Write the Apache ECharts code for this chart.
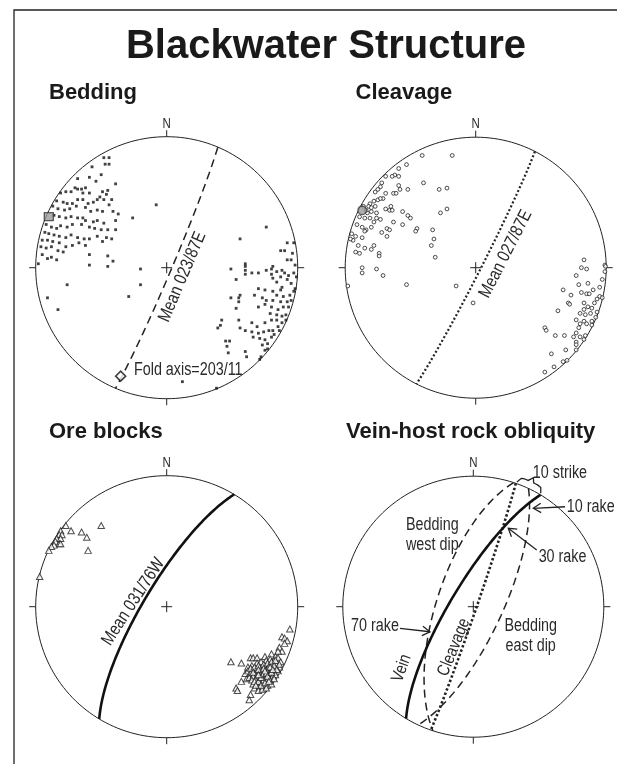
<!DOCTYPE html>
<html><head><meta charset="utf-8">
<script src="https://cdn.jsdelivr.net/npm/echarts@6/dist/echarts.min.js"></script>
<style>html,body{margin:0;padding:0;background:#fff}#c{width:617px;height:764px}</style>
</head><body><div id="c"></div>
<script>
// ---------------- DATA (net coordinates, lower hemisphere equal-area, radius = 1) ----------------
const titleText = 'Blackwater Structure';
const panelTitles = ['Bedding', 'Cleavage', 'Ore blocks', 'Vein-host rock obliquity'];

// Bedding poles
const beddingPoles = [
[-.48,.84],[-.44,.84],[-.47,.79],[-.44,.79],[-.57,.77],[-.59,.69],[-.50,.71],[-.68,.68],[-.39,.64],[-.54,.66],
[-.70,.61],[-.68,.60],[-.65,.60],[-.62,.61],[-.73,.58],[-.77,.58],[-.64,.57],[-.59,.57],[-.49,.58],[-.45,.59],[-.46,.56],[-.51,.54],
[-.81,.57],[-.84,.51],[-.79,.50],[-.76,.49],[-.72,.49],[-.68,.52],[-.64,.52],[-.60,.49],[-.56,.50],[-.53,.52],[-.48,.52],[-.42,.52],[-.44,.48],
[-.87,.47],[-.83,.45],[-.78,.44],[-.74,.45],[-.69,.47],[-.62,.46],[-.58,.43],[-.53,.44],[-.49,.43],[-.41,.43],[-.37,.41],
[-.86,.40],[-.82,.39],[-.77,.38],[-.73,.39],[-.68,.38],[-.64,.38],[-.62,.36],[-.56,.35],[-.53,.36],[-.39,.36],[-.48,.34],[-.26,.38],
[-.92,.33],[-.88,.31],[-.84,.30],[-.81,.32],[-.76,.31],[-.72,.33],[-.65,.33],[-.59,.31],[-.55,.30],[-.50,.29],[-.45,.29],[-.39,.29],
[-.93,.27],[-.90,.26],[-.86,.25],[-.82,.24],[-.77,.23],[-.73,.25],[-.68,.23],[-.63,.22],[-.59,.22],[-.53,.24],[-.46,.23],
[-.95,.21],[-.91,.21],[-.87,.20],[-.82,.19],[-.77,.16],[-.72,.17],[-.67,.19],[-.62,.17],[-.49,.20],[-.42,.22],
[-.96,.16],[-.92,.15],[-.88,.16],[-.83,.13],[-.79,.12],[-.88,.08],[-.84,.06],[-.91,.07],[-.95,.10],
[-.59,.10],[-.45,.09],[-.41,.05],[-.45,.01],[-.59,.02],[-.98,.03],
[-.08,.48],[-.20,-.01],[-.20,-.13],[-.29,-.22],[-.76,-.13],[-.91,-.23],[-.83,-.32],[.76,.31],[.56,.22],[.12,-.87],[.38,-.92],[.71,-.70],
[.92,.19],[.97,.19],[.87,.13],[.90,.13],[.96,.11],[.95,.06],[.92,.06],[.98,.02],
[.60,.03],[.60,.01],[.60,-.02],[.60,-.05],[.49,-.01],[.65,-.04],[.70,-.04],[.76,-.02],[.80,-.01],[.81,.01],[.84,-.03],[.88,-.02],[.90,-.04],[.93,-.06],[.97,-.04],[.99,-.07],[.87,-.07],[.92,-.09],
[.80,-.05],[.81,-.08],[.84,-.11],[.88,-.15],[.95,-.12],[.98,-.16],
[.53,-.09],[.70,-.16],[.75,-.17],[.81,-.18],[.87,-.17],[.84,-.21],[.89,-.22],[.94,-.21],[.97,-.18],
[.56,-.21],[.55,-.23],[.55,-.26],[.49,-.23],[.67,-.21],[.73,-.23],[.76,-.25],[.81,-.25],[.87,-.26],[.92,-.26],[.95,-.25],
[.53,-.31],[.70,-.30],[.75,-.28],[.80,-.30],[.85,-.32],[.89,-.30],[.93,-.30],
[.84,-.36],[.79,-.35],[.88,-.37],[.91,-.36],
[.42,-.40],[.41,-.44],[.39,-.46],[.55,-.40],[.65,-.42],[.69,-.45],[.75,-.42],[.80,-.40],[.84,-.40],[.88,-.42],[.91,-.40],
[.56,-.46],[.60,-.48],[.65,-.49],[.70,-.50],[.74,-.49],[.78,-.48],[.81,-.48],[.85,-.45],[.86,-.48],
[.66,-.53],[.71,-.54],[.75,-.55],[.80,-.53],[.82,-.51],
[.45,-.56],[.48,-.56],[.46,-.60],[.73,-.59],[.77,-.58],[.75,-.63],[.77,-.62],
[.47,-.65],[.60,-.64],[.61,-.68],[.72,-.68]
];
const beddingMeanPole = [[-.90,.39]];
const beddingMeanPlane = [23, 87, 'E'];      // strike, dip, dip side
const foldAxis = [203, 11];                  // trend, plunge

// Cleavage poles
const cleavagePoles = [
[-.41,.86],[-.18,.86],[-.53,.79],[-.59,.76],[-.62,.71],[-.64,.70],[-.59,.70],[-.69,.70],[-.40,.65],[-.28,.60],[-.22,.61],[-.59,.63],[-.58,.60],[-.72,.65],[-.73,.62],[-.75,.60],[-.77,.58],[-.69,.57],[-.63,.57],[-.61,.57],[-.52,.60],[-.71,.53],[-.75,.52],[-.78,.51],[-.81,.49],[-.82,.47],[-.77,.47],[-.73,.53],
[-.83,.42],[-.80,.43],[-.76,.42],[-.69,.45],[-.65,.47],[-.66,.44],[-.64,.44],[-.56,.43],[-.52,.40],[-.50,.38],[-.27,.42],[-.22,.45],[-.84,.44],[-.86,.47],[-.80,.46],
[-.89,.39],[-.85,.38],[-.81,.38],[-.76,.38],[-.78,.35],[-.73,.37],[-.63,.35],[-.56,.33],[-.45,.30],[-.33,.29],
[-.91,.33],[-.87,.31],[-.84,.29],[-.80,.31],[-.85,.28],[-.68,.30],[-.66,.29],[-.72,.27],[-.95,.26],[-.92,.24],[-.87,.23],[-.94,.21],[-.96,.22],[-.68,.24],[-.46,.28],[-.32,.22],
[-.90,.17],[-.85,.15],[-.78,.17],[-.92,.12],[-.89,.11],[-.80,.14],[-.74,.11],[-.74,.09],[-.34,.17],[-.31,.08],
[-.87,.00],[-.76,-.01],[-.87,-.04],[-.71,-.06],[-.98,-.14],[-.53,-.13],[-.15,-.14],[-.02,-.27],
[.83,.06],[.81,.00],[.85,-.01],[.77,-.06],[.99,.02],[.99,-.03],[.97,-.09],[.95,-.15],[.86,-.12],[.79,-.13],[.67,-.17],[.73,-.21],[.81,-.19],[.85,-.20],[.87,-.20],[.90,-.17],[.95,-.22],[.97,-.23],[.93,-.24],
[.71,-.27],[.72,-.28],[.83,-.27],[.86,-.30],[.89,-.31],[.83,-.32],[.91,-.27],[.63,-.33],[.80,-.35],[.84,-.36],[.88,-.35],[.93,-.34],[.92,-.38],[.77,-.40],[.83,-.41],[.89,-.41],[.80,-.43],[.85,-.43],[.79,-.46],[.89,-.44],
[.53,-.46],[.54,-.48],[.61,-.52],[.68,-.52],[.77,-.50],[.75,-.53],[.80,-.53],[.83,-.55],[.77,-.57],[.84,-.52],[.77,-.59],[.77,-.63],[.69,-.63],[.58,-.66],[.67,-.72],[.70,-.71],[.60,-.76],[.53,-.80],[.995,.01]
];
const cleavageMeanPole = [[-.87,.44]];
const cleavageMeanPlane = [27, 87, 'E'];

// Ore block poles
const orePoles = [
[-.77,.62],[-.73,.58],[-.65,.57],[-.61,.53],[-.50,.62],[-.60,.43],[-.81,.58],[-.82,.55],[-.80,.55],[-.84,.52],[-.81,.52],[-.85,.50],[-.82,.48],[-.86,.47],[-.81,.48],[-.88,.46],[-.90,.43],[-.97,.23],
[.94,-.17],[.88,-.23],[.90,-.24],[.92,-.26],[.90,-.28],[.86,-.31],[.88,-.34],[.85,-.34],[.49,-.42],[.57,-.43],[.64,-.39],[.66,-.39],[.69,-.39],[.75,-.38],[.80,-.36],[.83,-.38],
[.57,-.57],[.53,-.62],[.54,-.64],[.64,-.67],[.63,-.71],[.60,-.51],[.61,-.55],
[.62,-.46],[.65,-.45],[.69,-.43],[.72,-.42],[.76,-.41],[.79,-.40],[.82,-.41],[.85,-.39],
[.62,-.49],[.65,-.48],[.68,-.47],[.71,-.46],[.75,-.45],[.78,-.45],[.81,-.44],[.84,-.43],[.87,-.42],
[.64,-.51],[.67,-.51],[.70,-.50],[.73,-.49],[.76,-.48],[.80,-.48],[.83,-.47],[.86,-.46],
[.63,-.54],[.66,-.53],[.69,-.53],[.73,-.52],[.76,-.51],[.79,-.51],[.82,-.50],[.85,-.49],
[.65,-.56],[.68,-.56],[.71,-.55],[.75,-.55],[.78,-.54],[.81,-.53],[.83,-.52],
[.66,-.59],[.69,-.59],[.73,-.58],[.76,-.57],[.79,-.56],[.82,-.55],
[.67,-.62],[.71,-.61],[.74,-.61],[.77,-.60],[.80,-.59],
[.70,-.64],[.73,-.63],[.76,-.62],
[.64,-.47],[.67,-.46],[.70,-.45],[.74,-.44],[.77,-.43],[.80,-.42],[.83,-.41],
[.66,-.50],[.70,-.48],[.74,-.47],[.78,-.46],[.82,-.45],[.86,-.44],
[.67,-.57],[.70,-.57],[.74,-.56],[.77,-.53],[.80,-.50],[.84,-.48],[.72,-.54],[.75,-.49],[.79,-.46],[.81,-.48],[.72,-.60],[.75,-.58],[.78,-.57],[.70,-.52],[.68,-.60]
];
const oreMeanPlane = [31, 76, 'W'];

// Vein-host rock obliquity planes
const veinPlane = [31, 76, 'W'];
const veinCleavagePlane = [19, 88, 'E'];
const beddingWestPlane = [18, 67, 'W'];
const beddingEastPlane = [25, 72, 'E'];
const rakeLabels = ['10 rake', '30 rake', '70 rake'];
const strikeLabel = '10 strike';

// ---------------- GEOMETRY ----------------
const D = Math.PI / 180;
function projectVec(e, n, d) {            // lower hemisphere, equal-area
  if (d < 0) { e = -e; n = -n; d = -d; }
  const pl = Math.asin(Math.min(1, d));
  const r = Math.SQRT2 * Math.sin((Math.PI / 2 - pl) / 2);
  const h = Math.hypot(e, n) || 1;
  return [r * e / h, r * n / h];
}
function lineXY(trend, plunge) {
  const r = Math.SQRT2 * Math.sin((90 - plunge) * D / 2);
  return [r * Math.sin(trend * D), r * Math.cos(trend * D)];
}
function planeTrace(p) {
  const [strike, dip, side] = p;
  const dd = (side === 'E' ? strike + 90 : strike + 270) % 360;
  const s = [Math.sin(strike * D), Math.cos(strike * D), 0];
  const d = [Math.cos(dip * D) * Math.sin(dd * D), Math.cos(dip * D) * Math.cos(dd * D), Math.sin(dip * D)];
  const pts = [];
  for (let t = 0; t <= 180; t += 1) {
    const c = Math.cos(t * D), sn = Math.sin(t * D);
    pts.push(projectVec(c * s[0] + sn * d[0], c * s[1] + sn * d[1], c * s[2] + sn * d[2]));
  }
  return pts;
}
const pad3 = v => String(v).padStart(3, '0');
const planeLabel = p => 'Mean ' + pad3(p[0]) + '/' + p[1] + p[2];
const primitive = [];
for (let a = 0; a <= 360; a += 2) primitive.push([Math.sin(a * D), Math.cos(a * D)]);
const polar = (r, az) => [r * Math.sin(az * D), r * Math.cos(az * D)];

// ---------------- LAYOUT ----------------
const P = [
  { cx: 166.7, cy: 267.7, R: 131 },
  { cx: 475.7, cy: 267.7, R: 130.5 },
  { cx: 166.7, cy: 606.7, R: 131 },
  { cx: 473.3, cy: 606.7, R: 130.5 }
];
const INK = '#222';

const grids = [], xAxes = [], yAxes = [], series = [];
function frameSeries(i) {
  const R = P[i].R, t = 6.5 / R, c = 5.5 / R;
  const segs = [[[0, 1], [0, 1 + t]], [[0, -1], [0, -1 - t]], [[1, 0], [1 + t, 0]], [[-1, 0], [-1 - t, 0]],
                [[-c, 0], [c, 0]], [[0, -c], [0, c]]];
  return [
    { type: 'line', xAxisIndex: i, yAxisIndex: i, data: primitive, symbol: 'none', showSymbol: false, clip: false, silent: true,
      lineStyle: { color: INK, width: 1 }, z: 2 },
    { type: 'lines', coordinateSystem: 'cartesian2d', xAxisIndex: i, yAxisIndex: i, polyline: true, clip: false, silent: true,
      lineStyle: { color: INK, width: 1, opacity: 1 }, data: segs.map(s => ({ coords: s })), z: 3 }
  ];
}
function gc(i, plane, ls) {
  return { type: 'line', xAxisIndex: i, yAxisIndex: i, data: planeTrace(plane), symbol: 'none', showSymbol: false,
    clip: false, silent: true, lineStyle: Object.assign({ color: INK, cap: 'butt' }, ls), z: 4 };
}
P.forEach((p, i) => {
  grids.push({ left: p.cx - p.R, top: p.cy - p.R, width: 2 * p.R, height: 2 * p.R, containLabel: false });
  xAxes.push({ type: 'value', gridIndex: i, min: -1, max: 1, show: false });
  yAxes.push({ type: 'value', gridIndex: i, min: -1, max: 1, show: false });
  series.push(...frameSeries(i));
});

// Bedding
series.push(gc(0, beddingMeanPlane, { type: [8, 5], width: 1.5 }));
series.push({ type: 'scatter', xAxisIndex: 0, yAxisIndex: 0, data: beddingPoles, symbol: 'rect', symbolSize: 2.8,
  itemStyle: { color: '#111' }, silent: true, z: 5 });
series.push({ type: 'scatter', xAxisIndex: 0, yAxisIndex: 0, data: beddingMeanPole, symbol: 'rect', symbolSize: [9, 8],
  itemStyle: { color: '#9a9a9a', borderColor: '#333', borderWidth: 1.2 }, silent: true, z: 6 });
series.push({ type: 'scatter', xAxisIndex: 0, yAxisIndex: 0, data: [lineXY(foldAxis[0], foldAxis[1])], symbol: 'diamond', symbolSize: 10,
  itemStyle: { color: '#fff', borderColor: '#111', borderWidth: 1.6 }, silent: true, z: 6 });

// Cleavage
series.push(gc(1, cleavageMeanPlane, { type: [2, 2.2], width: 2.2 }));
series.push({ type: 'scatter', xAxisIndex: 1, yAxisIndex: 1, data: cleavagePoles, symbol: 'circle', symbolSize: 3.8,
  itemStyle: { color: '#fff', borderColor: '#222', borderWidth: 1 }, silent: true, z: 5 });
series.push({ type: 'scatter', xAxisIndex: 1, yAxisIndex: 1, data: cleavageMeanPole, symbol: 'circle', symbolSize: 8.5,
  itemStyle: { color: '#9a9a9a', borderColor: '#333', borderWidth: 1.2 }, silent: true, z: 6 });

// Ore blocks
series.push(gc(2, oreMeanPlane, { type: 'solid', width: 2.6, color: '#111' }));
series.push({ type: 'scatter', xAxisIndex: 2, yAxisIndex: 2, data: orePoles, symbol: 'triangle', symbolSize: [6.5, 6],
  itemStyle: { color: '#fff', borderColor: '#222', borderWidth: 1 }, silent: true, z: 5 });

// Vein-host rock obliquity
series.push(gc(3, beddingWestPlane, { type: [8, 5], width: 1.5 }));
series.push(gc(3, beddingEastPlane, { type: [8, 5], width: 1.5 }));
series.push(gc(3, veinCleavagePlane, { type: [2.4, 2.2], width: 2.6 }));
series.push(gc(3, veinPlane, { type: 'solid', width: 2.6, color: '#111' }));

// rake arrows (annotation anchors in net coordinates: label side -> point on vein)
const R3 = P[3].R;
const arrowDefs = [
  { tail: [.703, .766], tip: [.46, .754] },
  { tail: [.486, .434], tip: [.268, .601] },
  { tail: [-.562, -.166], tip: [-.332, -.192] }
];
function arrowLines(tail, tip) {
  const L = 9 / R3, a = 32 * D;
  let dx = tail[0] - tip[0], dy = tail[1] - tip[1];
  const m = Math.hypot(dx, dy); dx /= m; dy /= m;
  const rot = s => [tip[0] + L * (dx * Math.cos(s) - dy * Math.sin(s)), tip[1] + L * (dx * Math.sin(s) + dy * Math.cos(s))];
  return [{ coords: [tail, tip] }, { coords: [rot(a), tip, rot(-a)] }];
}
const arrowData = [];
arrowDefs.forEach(a => arrowData.push(...arrowLines(a.tail, a.tip)));
// strike brace between cleavage strike and vein strike
const az1 = veinCleavagePlane[0], az2 = veinPlane[0], mid = (az1 + az2) / 2;
const bracePts = [polar(1.012, az1 + 0.3), polar(1.05, az1 + 1.5)];
for (let a = az1 + 2.5; a <= mid - 1; a += 1) bracePts.push(polar(1.055, a));
bracePts.push(polar(1.09, mid));
for (let a = mid + 1; a <= az2 - 2.5; a += 1) bracePts.push(polar(1.055, a));
bracePts.push(polar(1.05, az2 - 1.5), polar(1.012, az2 - 0.3));
arrowData.push({ coords: bracePts });
series.push({ type: 'lines', coordinateSystem: 'cartesian2d', xAxisIndex: 3, yAxisIndex: 3, polyline: true, clip: false, silent: true,
  lineStyle: { color: INK, width: 1.3, opacity: 1 }, data: arrowData, z: 6 });

const chart = echarts.init(document.getElementById('c'), null, { renderer: 'canvas' });
chart.setOption({ animation: false, backgroundColor: '#fff', grid: grids, xAxis: xAxes, yAxis: yAxes, series: series });

// ---------------- TEXT ----------------
const FONT = '"Liberation Sans", Arial, Helvetica, sans-serif';
const px = (i, pt) => chart.convertToPixel({ gridIndex: i }, pt);
function nt(text, pos, rotDeg, size, align, fill) {
  return { type: 'text', x: pos[0], y: pos[1], rotation: (rotDeg || 0) * D, scaleX: 0.82, silent: true, z: 100,
    style: { text: text, font: size + 'px ' + FONT, fill: fill || '#2a2a2a', align: align || 'center', verticalAlign: 'middle',
      textAlign: align || 'center', textVerticalAlign: 'middle' } };
}
function bt(text, x, y, size, align) {
  return { type: 'text', x: x, y: y, silent: true, z: 100,
    style: { text: text, font: 'bold ' + size + 'px ' + FONT, fill: '#1a1a1a', align: align, verticalAlign: 'middle',
      textAlign: align, textVerticalAlign: 'middle' } };
}
const g = [];
g.push({ type: 'rect', shape: { x: 14, y: 10, width: 700, height: 800 }, style: { fill: 'none', stroke: '#222', lineWidth: 1.3 }, silent: true, z: 0 });
g.push(bt(titleText, 326, 47, 40, 'center'));
g.push(bt(panelTitles[0], 49, 93, 22, 'left'));
g.push(bt(panelTitles[1], 355.6, 93, 22, 'left'));
g.push(bt(panelTitles[2], 49, 432, 22, 'left'));
g.push(bt(panelTitles[3], 346, 432, 22, 'left'));
P.forEach((p, i) => { const t = px(i, [0, 1]); g.push(nt('N', [t[0], t[1] - 13], 0, 14)); });

g.push(nt(planeLabel(beddingMeanPlane), px(0, [.12, -.07]), 90 - beddingMeanPlane[0], 18));
g.push(nt('Fold axis=' + pad3(foldAxis[0]) + '/' + foldAxis[1], px(0, [-.25, -.78]), 0, 17.5, 'left'));
g.push(nt(planeLabel(cleavageMeanPlane), px(1, [.23, .105]), 90 - cleavageMeanPlane[0], 18));
g.push(nt(planeLabel(oreMeanPlane), px(2, [-.255, .038]), 57, 18));

g.push(nt('Bedding', px(3, [-.314, .626]), 0, 17.5));
g.push(nt('west dip', px(3, [-.314, .473]), 0, 17.5));
g.push(nt('Bedding', px(3, [.44, -.153]), 0, 17.5));
g.push(nt('east dip', px(3, [.44, -.301]), 0, 17.5));
g.push(nt(rakeLabels[0], px(3, [.90, .759]), 0, 17.5));
g.push(nt(rakeLabels[1], px(3, [.684, .379]), 0, 17.5));
g.push(nt(rakeLabels[2], px(3, [-.753, -.153]), 0, 17.5));
g.push(nt(strikeLabel, px(3, [.664, 1.027]), 0, 17.5));
g.push(nt('Cleavage', px(3, [-.148, -.311]), 68, 17.5));
g.push(nt('Vein', px(3, [-.549, -.472]), 70, 17.5));

chart.setOption({ graphic: g });
</script></body></html>
